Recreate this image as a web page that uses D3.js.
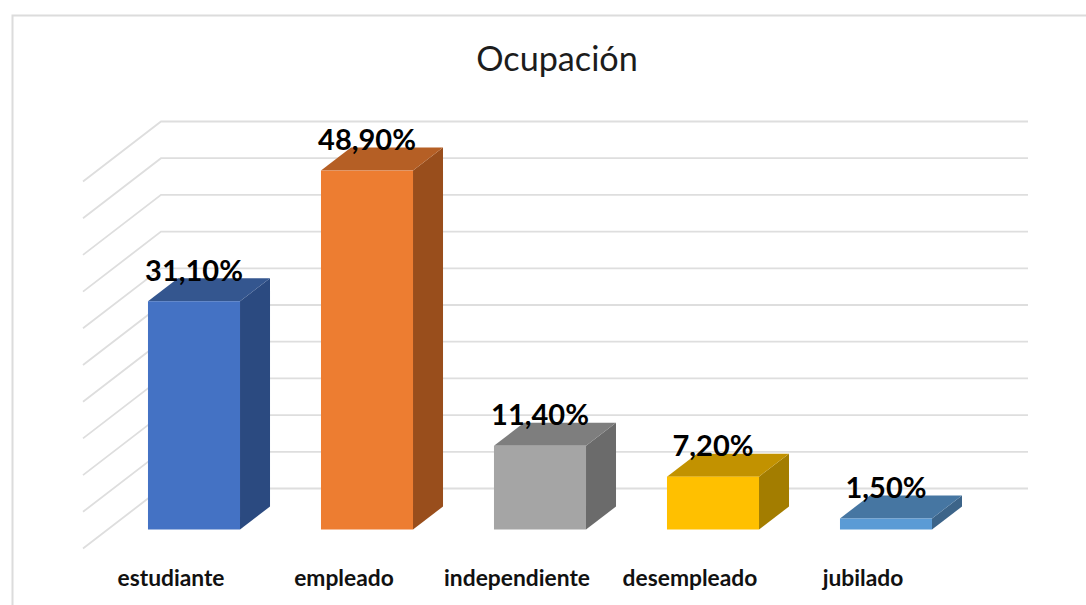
<!DOCTYPE html>
<html><head><meta charset="utf-8">
<script src="https://cdn.jsdelivr.net/npm/d3@7/dist/d3.min.js"></script>
<style>html,body{margin:0;padding:0;background:#fff}svg{display:block}text{font-family:Lato,"Open Sans",sans-serif}</style>
</head><body><div id="c"></div>
<script>
const title = "Ocupación";
const categories = ["estudiante","empleado","independiente","desempleado","jubilado"];
const values = [31.1,48.9,11.4,7.2,1.5];
const valueLabels = ["31,10%","48,90%","11,40%","7,20%","1,50%"];
const gridTicks = [0,5,10,15,20,25,30,35,40,45,50];
const frontColors = ["#4472C4","#ED7D31","#A5A5A5","#FFC000","#5B9BD5"];
const topColors = ["#34568F","#B55F25","#7E7E7E","#C29200","#4676A2"];
const sideColors = ["#2B4A80","#994E1C","#6B6B6B","#A37D00","#3C6489"];

const W=1086,H=605;
const svg=d3.select("#c").append("svg").attr("width",W).attr("height",H);
svg.append("path").attr("d",`M12.5,${H}V15.5H${W}`).attr("fill","none").attr("stroke","#DCDCDC").attr("stroke-width",2);
svg.append("text").attr("x",557).attr("y",71).attr("text-anchor","middle").attr("font-size",34.2).attr("fill","#1c1c1c").text(title);

const baseY=529.5, backBaseY=488.5;   // front base of bars, back wall base
const y=d3.scaleLinear().domain([0,50]).range([0,367]);
const x=d3.scaleBand().domain(categories).range([107.5,972.5]).paddingInner(0.468).paddingOuter(0.234);
const barDX=30,barDY=23;
const wallL=161,wallR=1028,floorDX=78,floorDY=60;

const grid=svg.append("g").attr("fill","none").attr("stroke","#DEDEDE").attr("stroke-width",1.8);
grid.selectAll("path").data(gridTicks).join("path")
  .attr("d",t=>{const yy=backBaseY-y(t);return `M${wallL-floorDX},${yy+floorDY}L${wallL},${yy}H${wallR}`;});

const bars=svg.append("g").selectAll("g").data(categories).join("g");
bars.each(function(c,i){
  const g=d3.select(this),x0=x(c),w=x.bandwidth(),h=y(values[i]),t=baseY-h,b=baseY;
  g.append("path").attr("fill",sideColors[i]).attr("d",`M${x0+w},${t}l${barDX},${-barDY}V${b-barDY}L${x0+w},${b}Z`);
  g.append("path").attr("fill",topColors[i]).attr("d",`M${x0},${t}l${barDX},${-barDY}h${w}l${-barDX},${barDY}Z`);
  g.append("rect").attr("fill",frontColors[i]).attr("x",x0).attr("y",t).attr("width",w).attr("height",h);
  g.append("text").attr("x",x0+w/2).attr("y",t-20.5).attr("text-anchor","middle")
    .attr("font-size",29).attr("font-weight",700).attr("fill","#000").text(valueLabels[i]);
  g.append("text").attr("x",x0+w/2-23).attr("y",586).attr("text-anchor","middle")
    .attr("font-size",22.8).attr("font-weight",700).attr("fill","#111").text(c);
});
</script></body></html>
